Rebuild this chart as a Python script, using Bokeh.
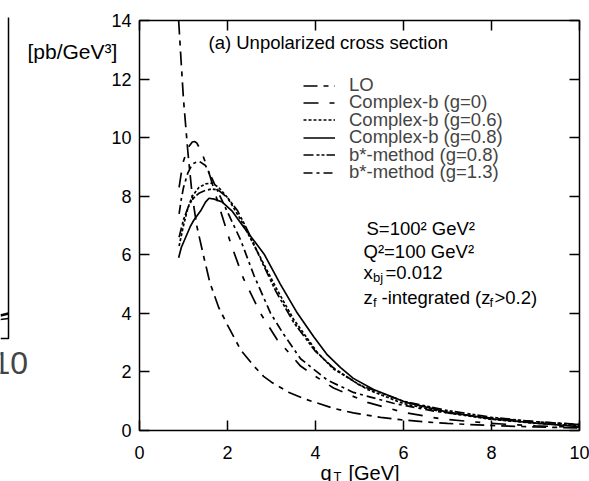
from bokeh.plotting import figure
from bokeh.models import Range1d, LinearAxis, Label, Legend, LegendItem, FixedTicker, GridBox
from bokeh.core.properties import value
from bokeh.embed import file_html
from bokeh.resources import INLINE

FONT = "Liberation Sans"

# ---------------- data ----------------
x_ticks = [0, 2, 4, 6, 8, 10]
y_ticks = [0, 2, 4, 6, 8, 10, 12, 14]

lo_q = [0.89, 0.95, 1.0, 1.05, 1.1, 1.2, 1.3, 1.45, 1.6, 1.8, 2.0, 2.3, 2.6, 2.82, 3.0,
        3.4, 3.73, 4.4, 4.86, 5.48, 5.93, 6.5, 7.0, 8.0, 9.0, 10.0]
lo_v = [14.0, 12.5, 11.3, 10.4, 9.5, 8.0, 7.0, 6.0, 5.05, 4.2, 3.6, 2.75, 2.2, 1.85, 1.65,
        1.3, 1.09, 0.76, 0.6, 0.45, 0.37, 0.29, 0.24, 0.17, 0.12, 0.09]

cb0_q = [0.9, 0.95, 1.0, 1.1, 1.2, 1.25, 1.3, 1.4, 1.5, 1.6, 1.8, 2.07, 2.36, 2.75, 3.13,
         3.4, 3.66, 4.0, 4.41, 5.18, 6.0, 6.84, 8.0, 9.0, 10.0]
cb0_v = [8.3, 8.8, 9.2, 9.65, 9.85, 9.87, 9.82, 9.55, 9.15, 8.7, 7.7, 6.4, 5.2, 4.0, 3.1,
         2.65, 2.2, 1.85, 1.45, 0.96, 0.62, 0.4, 0.24, 0.16, 0.11]

cb06_q = [0.9, 1.0, 1.1, 1.2, 1.35, 1.5, 1.65, 1.8, 2.0, 2.3, 2.68, 3.13, 3.5, 4.05, 4.41,
          5.18, 6.0, 7.0, 8.0, 9.0, 10.0]
cb06_v = [6.3, 7.0, 7.6, 8.0, 8.3, 8.42, 8.45, 8.3, 7.95, 7.2, 6.1, 4.8, 3.8, 2.65, 2.1,
          1.4, 0.92, 0.6, 0.38, 0.25, 0.16]

cb08_q = [0.89, 0.95, 1.05, 1.15, 1.23, 1.39, 1.5, 1.58, 1.7, 1.88, 2.1, 2.37, 2.83, 3.2,
          3.59, 3.96, 4.27, 4.57, 4.86, 5.32, 6.08, 7.0, 8.0, 9.0, 10.0]
cb08_v = [5.9, 6.25, 6.6, 6.95, 7.17, 7.5, 7.8, 7.93, 7.9, 7.8, 7.5, 6.94, 6.03, 5.0,
          4.0, 3.2, 2.58, 2.15, 1.78, 1.4, 0.95, 0.63, 0.4, 0.25, 0.13]

bs08_q = [0.9, 1.0, 1.1, 1.2, 1.35, 1.5, 1.65, 1.8, 2.0, 2.23, 2.5, 2.8, 3.1, 3.5, 4.0,
          4.4, 5.0, 6.0, 7.0, 8.0, 9.0, 10.0]
bs08_v = [6.6, 7.2, 7.6, 7.9, 8.1, 8.2, 8.25, 8.2, 7.95, 7.5, 6.7, 5.7, 4.75, 3.7, 2.7,
          2.15, 1.55, 1.0, 0.68, 0.45, 0.3, 0.2]

bs13_q = [0.9, 0.95, 1.0, 1.1, 1.2, 1.35, 1.5, 1.65, 1.8, 2.05, 2.3, 2.6, 2.98, 3.27, 3.66,
          4.27, 4.86, 5.77, 6.7, 8.0, 9.0, 10.0]
bs13_v = [7.4, 7.9, 8.3, 8.8, 9.1, 9.2, 9.05, 8.6, 8.1, 7.3, 6.5, 5.3, 4.0, 3.3, 2.45,
          1.72, 1.3, 0.93, 0.66, 0.42, 0.3, 0.21]

series_names = ["LO", "Complex-b (g=0)", "Complex-b (g=0.6)", "Complex-b (g=0.8)",
                "b*-method (g=0.8)", "b*-method (g=1.3)"]
series_q = [lo_q, cb0_q, cb06_q, cb08_q, bs08_q, bs13_q]
series_v = [lo_v, cb0_v, cb06_v, cb08_v, bs08_v, bs13_v]
series_dash = ["14 6 5 6", "15 11 5 11", "3 2", "solid", "10 3 3 2 3 2", "9 4 3 4"]

# ---------------- main figure ----------------
p = figure(width=589, height=481, x_range=Range1d(0, 10), y_range=Range1d(0, 14),
           output_backend="svg", toolbar_location=None,
           min_border_left=139, min_border_right=10, min_border_top=20, min_border_bottom=51)
p.grid.visible = False
p.outline_line_color = "black"
p.outline_line_width = 1.5
p.background_fill_color = "white"
p.border_fill_color = "white"

for ax, ticks in ((p.xaxis[0], x_ticks), (p.yaxis[0], y_ticks)):
    ax.ticker = FixedTicker(ticks=ticks)
    ax.major_tick_in = 10
    ax.major_tick_out = 0
    ax.major_tick_line_width = 1.5
    ax.minor_tick_line_color = None
    ax.axis_line_color = None
    ax.major_label_text_font = FONT
    ax.major_label_text_font_size = "18px"
    ax.major_label_text_color = "black"
p.xaxis[0].major_label_standoff = 15
p.yaxis[0].major_label_standoff = 8

for ticks, place in ((x_ticks, "above"), (y_ticks, "right")):
    a = LinearAxis(ticker=FixedTicker(ticks=ticks), major_tick_in=10, major_tick_out=0,
                   major_tick_line_width=1.5, minor_tick_line_color=None, axis_line_color=None,
                   major_label_standoff=0, major_label_text_font_size="1px",
                   major_label_overrides={t: "" for t in ticks})
    p.add_layout(a, place)

# one legend per row so that the rows sit as close together as in the picture
row_bottoms = [334, 316.6, 299.2, 281.8, 264.4, 247]
for name, q, v, d, yb in zip(series_names, series_q, series_v, series_dash, row_bottoms):
    r = p.line(q, v, line_color="black", line_width=1.7, line_dash=d)
    leg = Legend(items=[LegendItem(label=name, renderers=[r])], location=(164, yb),
                 glyph_width=32, glyph_height=17, label_height=17, label_standoff=14,
                 padding=0, margin=0, border_line_color=None, background_fill_alpha=0,
                 label_text_font=FONT, label_text_font_size="18.5px")
    p.add_layout(leg)

def lab(x, y, text, size, dx=0):
    p.add_layout(Label(x=x, y=y, text=text, x_offset=dx, text_font=FONT,
                       text_font_size=size, text_color="black",
                       text_baseline="alphabetic", text_align="left"))

lab(1.568, 13.25, "(a) Unpolarized cross section", "18.5px")
lab(5.159, 6.90, "S=100\u00b2 GeV\u00b2", "18.5px")
lab(5.091, 6.11, "Q\u00b2=100 GeV\u00b2", "18.5px")
lab(5.091, 5.395, "x", "18.5px")
lab(5.091, 5.225, "bj", "13px", 9.5)
lab(5.091, 5.395, "=0.012", "18.5px", 22)
lab(5.091, 4.54, "z", "18.5px")
lab(5.091, 4.37, "f", "13px", 9.5)
lab(5.091, 4.54, "-integrated (z", "18.5px", 18)
lab(5.091, 4.37, "f", "13px", 126)
lab(5.091, 4.54, ">0.2)", "18.5px", 131)

# ---------------- overlay for texts outside the frame and the cropped neighbour panel ----------------
ov = figure(width=589, height=481, x_range=Range1d(0, 589), y_range=Range1d(481, 0),
            output_backend="svg", toolbar_location=None, min_border=0,
            x_axis_location=None, y_axis_location=None)
ov.grid.visible = False
ov.outline_line_color = None
ov.background_fill_alpha = 0
ov.border_fill_alpha = 0
if "frame_align" in p.properties():
    p.frame_align = False
    ov.frame_align = False

def otext(x, y, t, size, color="black"):
    ov.text(x=[x], y=[y], text=[t], text_font=value(FONT), text_font_size=size,
            text_color=color, text_baseline="alphabetic", text_align="left")

otext(27, 51, "[pb/GeV\u00b3]", "21px")
otext(320, 472, "q", "20px")
otext(333, 476, "T", "13px")
otext(348, 472, "[GeV]", "20px")

# remnant of the neighbouring panel at the left edge
ov.line([8, 8, 0], [17, 338, 338], line_color="black", line_width=1.5)
ov.line([0, 8], [315, 313], line_color="black", line_width=2.5)
ov.line([0, 8], [319, 318], line_color="black", line_width=1.5)
otext(-8, 362, "10", "32px", "#444444")

layout = GridBox(children=[(p, 0, 0), (ov, 0, 0)])
open("out.html", "w").write(file_html(layout, INLINE))
